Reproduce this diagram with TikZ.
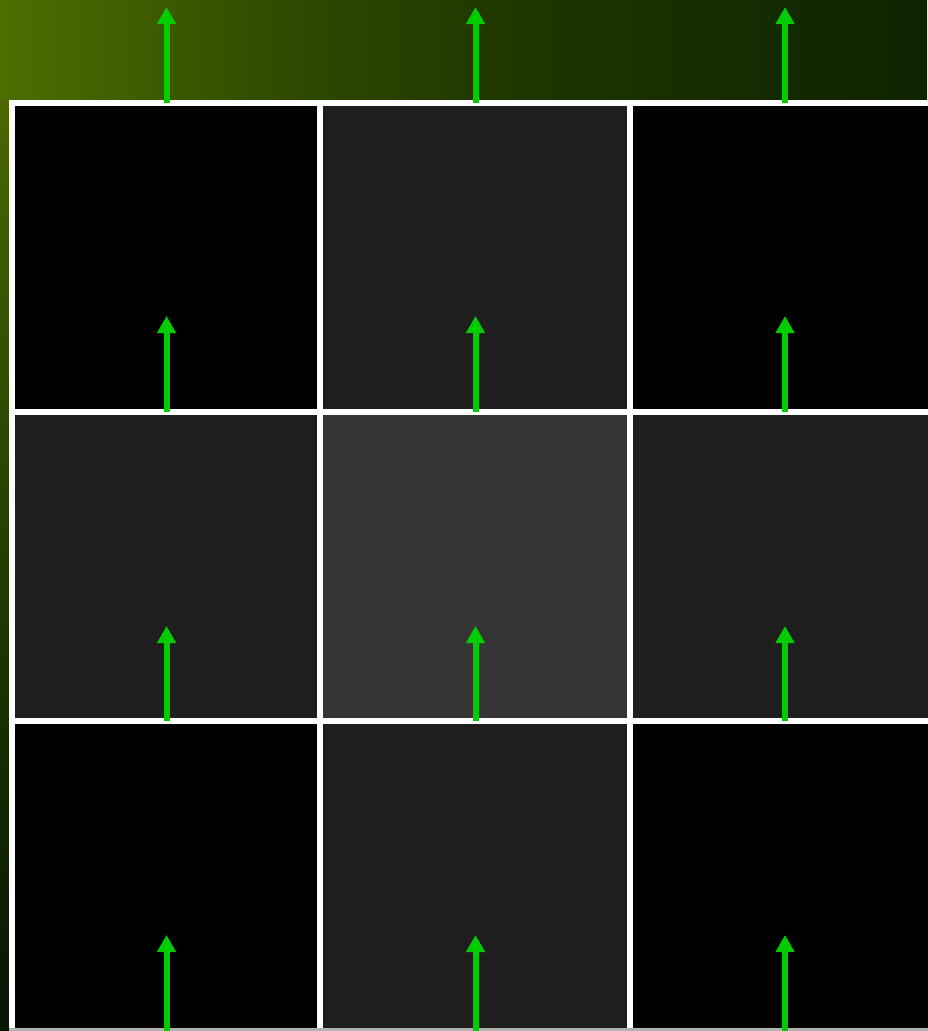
\documentclass[tikz,border=0pt]{standalone}
\usetikzlibrary{arrows.meta}
\definecolor{cellA}{RGB}{0,0,0}
\definecolor{cellB}{RGB}{30,30,30}
\definecolor{cellC}{RGB}{53,53,53}
\definecolor{arrowgreen}{RGB}{0,204,0}
\pgfdeclarehorizontalshading{topband}{100bp}{%
  rgb(0bp)=(0.306,0.431,0);
  rgb(25bp)=(0.306,0.431,0);
  rgb(41bp)=(0.184,0.286,0);
  rgb(52bp)=(0.125,0.216,0);
  rgb(63bp)=(0.090,0.176,0);
  rgb(75bp)=(0.055,0.137,0);
  rgb(100bp)=(0.055,0.137,0)}
\pgfdeclareverticalshading{leftband}{100bp}{%
  rgb(0bp)=(0.027,0.080,0.016);
  rgb(25bp)=(0.027,0.080,0.016);
  rgb(37bp)=(0.070,0.157,0.008);
  rgb(51bp)=(0.137,0.243,0);
  rgb(64bp)=(0.212,0.333,0);
  rgb(75bp)=(0.290,0.412,0);
  rgb(100bp)=(0.290,0.412,0)}
\tikzset{
  cellbox/.style={draw=none, inner sep=0pt, outer sep=0pt, anchor=north west},
  uparrow/.style={draw=arrowgreen, line width=6pt, -{Triangle[width=18pt,length=17pt]}},
}
\begin{document}
\begin{tikzpicture}[x=1pt,y=-1pt]
\useasboundingbox (0,0) rectangle (927,1031);
\shade[shading=topband] (0,0) rectangle (927,100);
\shade[shading=leftband] (0,100) rectangle (9,1031);
% white grid background
\fill[white] (9,100) rectangle (935,1035);
\fill[gray!60] (9,1028) rectangle (935,1031);
% cells
\foreach \c/\x/\w in {1/15/302, 2/323/304, 3/633/310}{
  \foreach \r/\y/\h in {1/106/303, 2/415/303, 3/724/304}{
    \pgfmathtruncatemacro{\k}{mod(\c+\r,2)}
    \ifnum\c=2 \ifnum\r=2 \def\col{cellC}\else\def\col{cellB}\fi
    \else \ifnum\k=0 \def\col{cellA}\else\def\col{cellB}\fi\fi
    \node[cellbox, fill=\col, minimum width=\w pt, minimum height=\h pt] (cell\c\r) at (\x,\y) {};
  }
}
% arrows
\foreach \c/\x in {1/166.5, 2/475.5, 3/785}{
  \foreach \r/\yb/\yt in {0/103/7, 1/412/316, 2/721/626, 3/1031/935}{
    \coordinate (base\c\r) at (\x,\yb);
    \coordinate (tip\c\r) at (\x,\yt);
    \draw[uparrow] (base\c\r) -- (tip\c\r);
  }
}
\end{tikzpicture}
\end{document}
